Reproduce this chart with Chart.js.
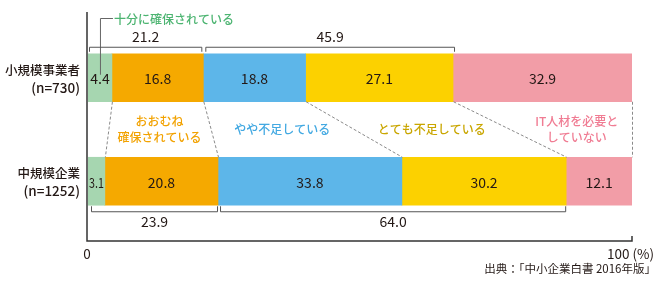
<!DOCTYPE html>
<html>
<head>
<meta charset="utf-8">
<script src="https://cdn.jsdelivr.net/npm/chart.js@4"></script>
<style>
  html, body { margin: 0; padding: 0; background: #fff; }
  #wrap { width: 670px; height: 281px; }
</style>
</head>
<body>
<div id="wrap"><canvas id="chart" width="670" height="281"></canvas></div>
<script>
// data
const categories = ['小規模事業者', '中規模企業'];
const sampleSizes = ['(n=730)', '(n=1252)'];
const segmentNames = ['十分に確保されている', 'おおむね\n確保されている', 'やや不足している', 'とても不足している', 'IT人材を必要と\nしていない'];
const smallBiz = [4.4, 16.8, 18.8, 27.1, 32.9];
const mediumBiz = [3.1, 20.8, 33.8, 30.2, 12.1];
const securedTotals = ['21.2', '23.9'];
const shortTotals = ['45.9', '64.0'];
const xTickLabels = ['0', '100 (%)'];
const sourceNote = '出典：「中小企業白書 2016年版」';

const barColors = ['#a6d6b0', '#f5a900', '#5db6e9', '#fcd100', '#f29da7'];
const textColors = ['#4cb471', '#f2a200', '#43a9e2', '#c9a600', '#f07c93'];
const FONT = '"Noto Sans CJK JP", "Noto Sans", sans-serif';

const datasets = segmentNames.map((name, i) => ({
    label: name,
    data: [smallBiz[i], mediumBiz[i]],
    backgroundColor: barColors[i],
    borderWidth: 0,
    barThickness: 48
}));

function cumulative(arr) {
    const out = [0];
    arr.forEach(v => out.push(+(out[out.length - 1] + v).toFixed(1)));
    return out;
}

const decorations = {
    id: 'decorations',
    afterDatasetsDraw(chart) {
        const { ctx, chartArea, scales: { x } } = chart;
        const metaTop = chart.getDatasetMeta(0).data;
        const bar1 = { top: metaTop[0].y - 24, bottom: metaTop[0].y + 24, mid: metaTop[0].y };
        const bar2 = { top: metaTop[1].y - 24, bottom: metaTop[1].y + 24, mid: metaTop[1].y };
        const c1 = cumulative(smallBiz);
        const c2 = cumulative(mediumBiz);

        ctx.save();

        // value labels inside segments
        ctx.fillStyle = '#231815';
        ctx.font = '14px ' + FONT;
        ctx.textAlign = 'center';
        ctx.textBaseline = 'middle';
        [[smallBiz, c1, bar1], [mediumBiz, c2, bar2]].forEach(([vals, cum, bar]) => {
            vals.forEach((v, i) => {
                const x0 = x.getPixelForValue(cum[i]);
                const x1 = x.getPixelForValue(cum[i + 1]);
                ctx.fillText(v.toFixed(1), (x0 + x1) / 2, bar.mid + 1, Math.max(x1 - x0 - 2, 10));
            });
        });

        // dashed connectors between bars
        ctx.strokeStyle = '#8a8a8a';
        ctx.lineWidth = 1;
        ctx.setLineDash([3, 2]);
        for (let i = 1; i < c1.length; i++) {
            ctx.beginPath();
            ctx.moveTo(x.getPixelForValue(c1[i]) + 0.5, bar1.bottom);
            ctx.lineTo(x.getPixelForValue(c2[i]) + 0.5, bar2.top);
            ctx.stroke();
        }
        ctx.setLineDash([]);

        // segment names in the gap
        const gapMid = (bar1.bottom + bar2.top) / 2;
        ctx.font = '500 12px ' + FONT;
        for (let i = 1; i < segmentNames.length; i++) {
            const a = (c1[i] + c1[i + 1]) / 2;
            const b = (c2[i] + c2[i + 1]) / 2;
            let cx = x.getPixelForValue((a + b) / 2);
            if (i === 4) cx += 6;
            const lines = segmentNames[i].split('\n');
            ctx.fillStyle = textColors[i];
            lines.forEach((ln, k) => {
                ctx.fillText(ln, cx, gapMid + (k - (lines.length - 1) / 2) * 16);
            });
        }

        // callout for the first segment
        const cx0 = x.getPixelForValue(smallBiz[0] / 2);
        const calloutY = chartArea.top - 8;
        ctx.strokeStyle = '#666';
        ctx.beginPath();
        ctx.moveTo(cx0 + 0.5, bar1.mid - 3);
        ctx.lineTo(cx0 + 0.5, calloutY + 0.5);
        ctx.lineTo(cx0 + 13, calloutY + 0.5);
        ctx.stroke();
        ctx.fillStyle = textColors[0];
        ctx.textAlign = 'left';
        ctx.fillText(segmentNames[0], cx0 + 14, calloutY + 1);

        // brackets with subtotals
        ctx.strokeStyle = '#555';
        ctx.fillStyle = '#231815';
        ctx.font = '14px ' + FONT;
        ctx.textAlign = 'center';
        function bracket(x0, x1, y, dir, text) {
            ctx.beginPath();
            ctx.moveTo(x0 + 0.5, y + dir * 5);
            ctx.lineTo(x0 + 0.5, y + 0.5);
            ctx.lineTo(x1 - 0.5, y + 0.5);
            ctx.lineTo(x1 - 0.5, y + dir * 5);
            ctx.stroke();
            ctx.fillText(text, (x0 + x1) / 2, y - dir * 10);
        }
        const by1 = bar1.top - 7;
        bracket(x.getPixelForValue(0) + 1, x.getPixelForValue(c1[2]) - 1, by1, 1, securedTotals[0]);
        bracket(x.getPixelForValue(c1[2]) + 2, x.getPixelForValue(c1[4]) + 2, by1, 1, shortTotals[0]);
        const by2 = bar2.bottom + 6;
        bracket(x.getPixelForValue(0) + 3, x.getPixelForValue(c2[2]), by2, -1, securedTotals[1]);
        bracket(x.getPixelForValue(c2[2]) + 2, x.getPixelForValue(c2[4]), by2, -1, shortTotals[1]);

        // axes
        const axisX = x.getPixelForValue(0) - 1;
        const axisY = chartArea.bottom + 8;
        ctx.strokeStyle = '#333';
        ctx.lineWidth = 1.5;
        ctx.beginPath();
        ctx.moveTo(axisX, chartArea.top - 14);
        ctx.lineTo(axisX, axisY);
        ctx.lineTo(x.getPixelForValue(100), axisY);
        ctx.lineTo(x.getPixelForValue(100), axisY - 5);
        ctx.stroke();

        // tick labels
        ctx.fillStyle = '#231815';
        ctx.font = '13.5px ' + FONT;
        ctx.textAlign = 'center';
        ctx.fillText(xTickLabels[0], axisX, axisY + 13);
        ctx.textAlign = 'left';
        ctx.fillText(xTickLabels[1], x.getPixelForValue(100) - 25, axisY + 13);

        // category labels
        ctx.textAlign = 'right';
        [bar1, bar2].forEach((bar, i) => {
            ctx.font = '500 12.5px ' + FONT;
            ctx.fillText(categories[i], axisX - 7, bar.mid - 8);
            ctx.font = '500 13.5px ' + FONT;
            ctx.fillText(sampleSizes[i], axisX - 7, bar.mid + 10);
        });

        // source
        ctx.font = '11.5px ' + FONT;
        ctx.fillText(sourceNote, 656, axisY + 28);

        ctx.restore();
    }
};

new Chart(document.getElementById('chart'), {
    type: 'bar',
    data: { labels: categories, datasets: datasets },
    options: {
        indexAxis: 'y',
        responsive: false,
        animation: false,
        layout: { padding: { left: 88, right: 38, top: 26, bottom: 48 } },
        plugins: { legend: { display: false }, tooltip: { enabled: false } },
        scales: {
            x: { stacked: true, min: 0, max: 100, display: false },
            y: { stacked: true, display: false }
        }
    },
    plugins: [decorations]
});
</script>
</body>
</html>
